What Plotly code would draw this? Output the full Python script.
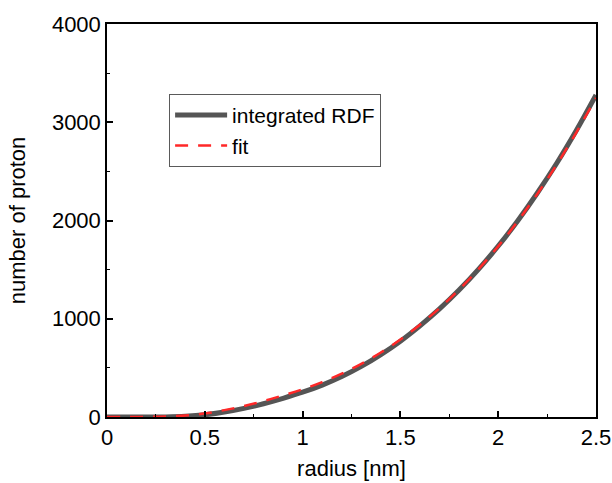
import plotly.graph_objects as go

radius = [0.0, 0.1, 0.2, 0.3, 0.4, 0.5, 0.6, 0.7, 0.8, 0.9, 1.0, 1.1, 1.2, 1.3,
          1.4, 1.5, 1.6, 1.7, 1.8, 1.9, 2.0, 2.1, 2.2, 2.3, 2.4, 2.5]
integrated_rdf = [0, 0, 0, 1, 7, 22, 50, 88, 135, 190, 252, 325, 412, 515,
                  635, 772, 928, 1100, 1292, 1505, 1740, 1998, 2280, 2585, 2918, 3277]
fit = [0, 0, 1, 5, 16, 36, 70, 112, 162, 220, 282, 355, 441, 541,
       656, 789, 940, 1108, 1296, 1506, 1737, 1992, 2270, 2571, 2898, 3247]

x_ticks = [0, 0.5, 1, 1.5, 2, 2.5]
x_tick_labels = ["0", "0.5", "1", "1.5", "2", "2.5"]
y_ticks = [0, 1000, 2000, 3000, 4000]
y_tick_labels = ["0", "1000", "2000", "3000", "4000"]

FONT = "Liberation Sans, Arial, sans-serif"

fig = go.Figure()
fig.add_trace(go.Scatter(x=radius, y=integrated_rdf, mode="lines", name="integrated RDF",
                         line=dict(color="rgb(85,85,85)", width=5, shape="spline")))
fig.add_trace(go.Scatter(x=radius, y=fit, mode="lines", name="fit",
                         line=dict(color="rgb(255,40,40)", width=2.5, dash="13px,10px", shape="spline")))

axis_common = dict(
    showgrid=False, zeroline=False, showline=True, linecolor="black", linewidth=1.5,
    mirror=True, ticks="inside", ticklen=6, tickwidth=1.5, tickcolor="black",
    tickfont=dict(family=FONT, size=22, color="black"), automargin=False,
)

fig.update_xaxes(range=[0, 2.5], tickvals=x_ticks, ticktext=x_tick_labels,
                 title=dict(text="radius [nm]", font=dict(family=FONT, size=22, color="black"), standoff=11),
                 minor=dict(dtick=0.25, tick0=0, ticks="inside", ticklen=3, tickwidth=1.2, tickcolor="black"),
                 **axis_common)
fig.update_yaxes(range=[0, 4000], tickvals=y_ticks, ticktext=y_tick_labels,
                 title=dict(text="number of proton", font=dict(family=FONT, size=22, color="black"), standoff=20),
                 minor=dict(dtick=500, tick0=0, ticks="inside", ticklen=3, tickwidth=1.2, tickcolor="black"),
                 **axis_common)

fig.update_layout(
    width=612, height=483,
    margin=dict(l=107, r=16, t=24, b=66),
    paper_bgcolor="white", plot_bgcolor="white",
    showlegend=True,
    legend=dict(x=0.127, y=0.822, xanchor="left", yanchor="top",
                bordercolor="rgb(90,90,90)", borderwidth=1, bgcolor="white",
                font=dict(family=FONT, size=21, color="black"),
                itemwidth=52, tracegroupgap=0),
)

fig.write_html("out.html")
